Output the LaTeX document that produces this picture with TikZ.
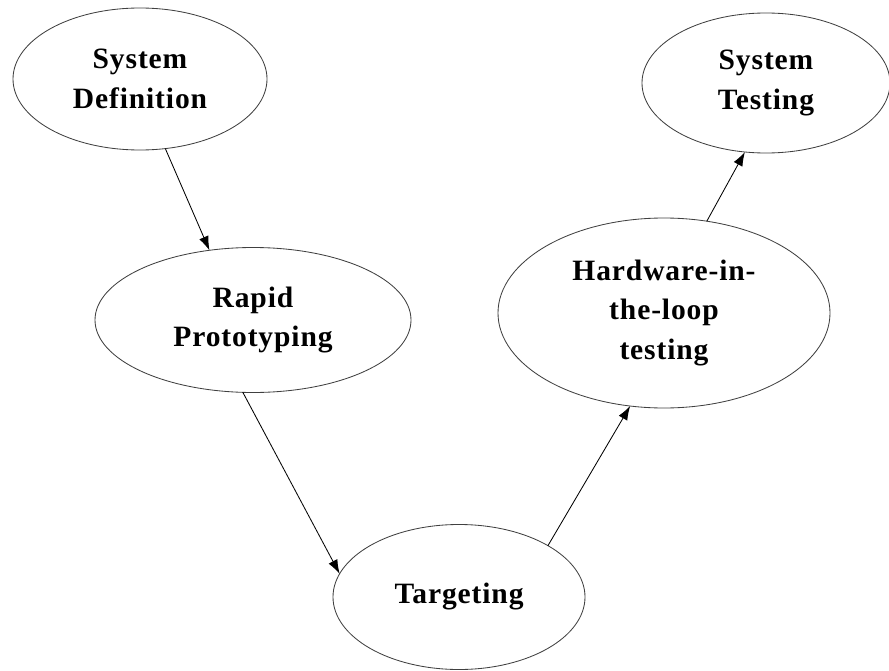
\documentclass[tikz,border=0pt]{standalone}
\usepackage{fontspec}
\setmainfont{Liberation Serif}[LetterSpace=3]
\usepackage{tikz}
\usetikzlibrary{arrows.meta,shapes.geometric}

\begin{document}
\begin{tikzpicture}[
    stage/.style={ellipse,draw=black!75,line width=0.6pt,inner sep=0pt,outer sep=0pt,
                  align=center,font=\fontsize{21}{28}\selectfont\bfseries},
    flow/.style={-{Latex[length=10pt,width=7pt]},line width=0.6pt}]
                      \useasboundingbox (0,0) rectangle (22.225,-16.775);
                      \node[stage,minimum width=6.35cm,minimum height=3.55cm](sysdef)at(3.5,-1.975){System\\Definition};
                      \node[stage,minimum width=7.9cm,minimum height=3.625cm](rapid)at(6.325,-8.0){Rapid\\Prototyping};
                      \node[stage,minimum width=6.3cm,minimum height=3.625cm](target)at(11.475,-14.925){Targeting};
                      \node[stage,minimum width=8.3cm,minimum height=4.75cm](hil)at(16.6,-7.825){Hardware-in-\\the-loop\\testing};
                      \node[stage,minimum width=6.2cm,minimum height=3.5cm](systest)at(19.15,-2.075){System\\Testing};
                      \draw[flow] (sysdef.-70)--(rapid.122);
                      \draw[flow] (rapid.-98)--(target.169);
                      \draw[flow] (target.30)--(hil.-110);
                      \draw[flow] (hil.65)--(systest.-107);
                  \end{tikzpicture}
\end{document}
